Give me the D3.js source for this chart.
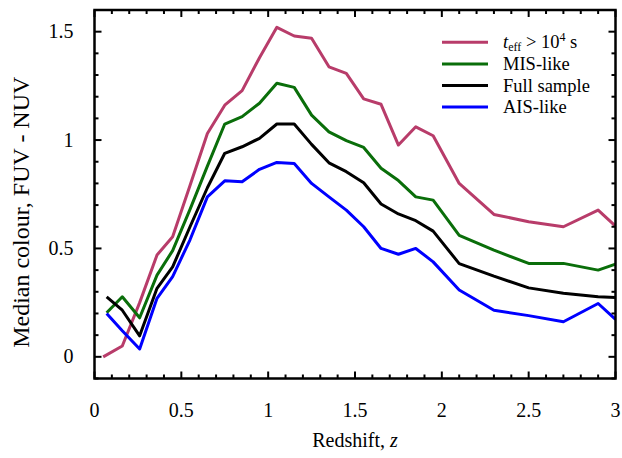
<!DOCTYPE html>
<html>
<head>
<meta charset="utf-8">
<script src="https://cdn.jsdelivr.net/npm/d3@7"></script>
<style>
  html, body { margin: 0; padding: 0; background: #fff; }
  svg text { font-family: "Liberation Serif", "DejaVu Serif", serif; fill: #000; }
</style>
</head>
<body>
<div id="chart"></div>
<script>
// ---- data ----
const zBins = [0.16, 0.26, 0.36, 0.45, 0.55, 0.65, 0.75, 0.85, 0.95, 1.05, 1.15, 1.25,
               1.35, 1.45, 1.55, 1.65, 1.75, 1.85, 1.95, 2.1, 2.3, 2.5, 2.7, 2.9, 3.0];
const zStart = { teff: 0.05, mis: 0.07, full: 0.07, ais: 0.07 };

const teffColour = [0.0, 0.05, 0.25, 0.47, 0.554, 0.79, 1.03, 1.161, 1.228, 1.38, 1.52, 1.48,
                    1.47, 1.338, 1.308, 1.19, 1.165, 0.977, 1.061, 1.02, 0.80, 0.657, 0.623, 0.60, 0.677, 0.603];
const misColour  = [0.203, 0.277, 0.18, 0.377, 0.49, 0.68, 0.88, 1.074, 1.108, 1.17, 1.262, 1.243,
                    1.115, 1.038, 0.997, 0.966, 0.87, 0.813, 0.738, 0.723, 0.56, 0.492, 0.431, 0.431, 0.40, 0.428];
const fullColour = [0.277, 0.215, 0.097, 0.316, 0.415, 0.60, 0.78, 0.939, 0.969, 1.008, 1.074, 1.074,
                    0.98, 0.895, 0.854, 0.803, 0.705, 0.659, 0.628, 0.58, 0.43, 0.372, 0.318, 0.293, 0.277, 0.274];
const aisColour  = [0.20, 0.12, 0.036, 0.27, 0.37, 0.54, 0.738, 0.812, 0.808, 0.865, 0.897, 0.892,
                    0.80, 0.738, 0.677, 0.60, 0.50, 0.473, 0.50, 0.438, 0.308, 0.215, 0.19, 0.162, 0.246, 0.173];

const xTicks = [0, 0.5, 1, 1.5, 2, 2.5, 3];
const yTicks = [0, 0.5, 1, 1.5];

const series = [
  { key: 'teff', values: teffColour, color: '#b83c6a' },
  { key: 'mis',  values: misColour,  color: '#0a6e0a' },
  { key: 'full', values: fullColour, color: '#000000' },
  { key: 'ais',  values: aisColour,  color: '#0000ff' }
];

// ---- layout ----
const W = 622, H = 458;
const margin = { left: 94.5, right: 6.5, top: 10, bottom: 79.5 };
const iw = W - margin.left - margin.right;
const ih = H - margin.top - margin.bottom;

const svg = d3.select('#chart').append('svg')
  .attr('width', W).attr('height', H);

const g = svg.append('g').attr('transform', `translate(${margin.left},${margin.top})`);

const x = d3.scaleLinear().domain([0, 3]).range([0, iw]);
const y = d3.scaleLinear().domain([-0.1, 1.6]).range([ih, 0]);

svg.append('defs').append('clipPath').attr('id', 'plotclip')
  .append('rect').attr('width', iw).attr('height', ih);

// ---- curves ----
const line = d3.line().x(d => x(d[0])).y(d => y(d[1]));
const curves = g.append('g').attr('clip-path', 'url(#plotclip)');
series.forEach(s => {
  const zs = [zStart[s.key], ...zBins];
  const pts = s.values.map((v, i) => [zs[i], v]);
  curves.append('path')
    .datum(pts)
    .attr('fill', 'none')
    .attr('stroke', s.color)
    .attr('stroke-width', 3)
    .attr('stroke-linejoin', 'round')
    .attr('d', line);
});

// ---- ticks (inward, all four sides) ----
const xMinor = d3.range(0, 3.0001, 0.1);
const yMinor = d3.range(-0.1, 1.6001, 0.1);
const isMajor = v => Math.abs(v * 2 - Math.round(v * 2)) < 1e-6;
const tk = g.append('g').attr('stroke', '#000').attr('stroke-width', 2);

xMinor.forEach(v => {
  const len = isMajor(v) ? 7 : 4;
  tk.append('line').attr('x1', x(v)).attr('x2', x(v)).attr('y1', ih).attr('y2', ih - len);
  tk.append('line').attr('x1', x(v)).attr('x2', x(v)).attr('y1', 0).attr('y2', len);
});
yMinor.forEach(v => {
  const len = isMajor(v) ? 7 : 4;
  tk.append('line').attr('y1', y(v)).attr('y2', y(v)).attr('x1', 0).attr('x2', len);
  tk.append('line').attr('y1', y(v)).attr('y2', y(v)).attr('x1', iw).attr('x2', iw - len);
});

// frame
g.append('rect')
  .attr('width', iw).attr('height', ih)
  .attr('fill', 'none').attr('stroke', '#000').attr('stroke-width', 2.5);

// tick labels
g.selectAll('.xlab').data(xTicks).enter().append('text')
  .attr('class', 'xlab')
  .attr('x', d => x(d)).attr('y', ih + 38)
  .attr('text-anchor', 'middle')
  .style('font-size', '20px')
  .text(d => d3.format('~g')(d));

g.selectAll('.ylab').data(yTicks).enter().append('text')
  .attr('class', 'ylab')
  .attr('x', -21).attr('y', d => y(d) + 6.5)
  .attr('text-anchor', 'end')
  .style('font-size', '20px')
  .text(d => d3.format('~g')(d));

// axis titles
const xt = g.append('text')
  .attr('x', iw / 2).attr('y', ih + 68)
  .attr('text-anchor', 'middle')
  .style('font-size', '20px');
xt.append('tspan').text('Redshift, ');
xt.append('tspan').style('font-style', 'italic').text('z');

g.append('text')
  .attr('transform', `translate(${-66},${ih / 2 + 18}) rotate(-90)`)
  .attr('text-anchor', 'middle')
  .style('font-size', '24px')
  .text('Median colour, FUV - NUV');

// ---- legend ----
const legendRows = [
  { key: 'teff', yy: 42.3 },
  { key: 'mis',  yy: 63.9, label: 'MIS-like' },
  { key: 'full', yy: 85.5, label: 'Full sample' },
  { key: 'ais',  yy: 107.0, label: 'AIS-like' }
];
const leg = svg.append('g');
legendRows.forEach(r => {
  const s = series.find(d => d.key === r.key);
  leg.append('line')
    .attr('x1', 442).attr('x2', 488).attr('y1', r.yy).attr('y2', r.yy)
    .attr('stroke', s.color).attr('stroke-width', 3);
  const t = leg.append('text').attr('x', 503).attr('y', r.yy + 6).style('font-size', '18.5px');
  if (r.key === 'teff') {
    t.append('tspan').style('font-style', 'italic').text('t');
    t.append('tspan').attr('dy', 3).style('font-size', '12px').text('eff');
    t.append('tspan').attr('dy', -3).text(' > 10');
    t.append('tspan').attr('dy', -7).style('font-size', '12px').text('4');
    t.append('tspan').attr('dy', 7).text(' s');
  } else {
    t.text(r.label);
  }
});
</script>
</body>
</html>
